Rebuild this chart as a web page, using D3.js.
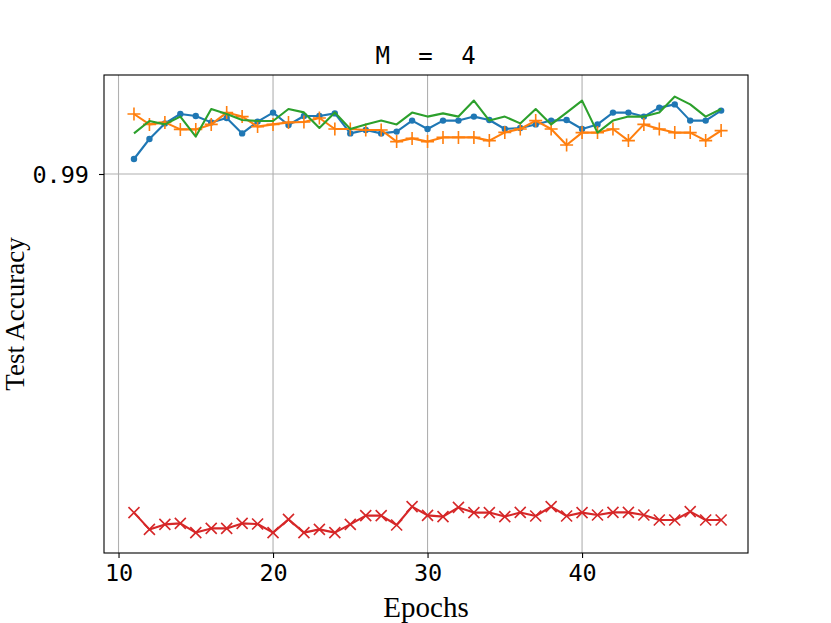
<!DOCTYPE html>
<html><head><meta charset="utf-8">
<script src="https://cdn.jsdelivr.net/npm/d3@7/dist/d3.min.js"></script>
<style>body{margin:0;background:#fff}</style>
</head><body>
<svg id="c" width="831" height="623"></svg>
<script>
const epochs = d3.range(11, 50);
const xTicks = [10, 20, 30, 40];
const yTicks = [0.99];
const yTickLabels = ["0.99"];
const titleText = "M = 4";
const xLabel = "Epochs";
const yLabel = "Test Accuracy";

const blue = [0.99075,0.99175,0.99253,0.9930,0.9929,0.99258,0.9928,0.99203,0.99262,0.99307,
  0.99245,0.9929,0.9929,0.99303,0.99203,0.9922,0.99203,0.99212,0.99267,0.99225,
  0.99267,0.99267,0.99287,0.9927,0.99225,0.9923,0.99248,0.99267,0.9927,0.99225,
  0.99248,0.99307,0.99307,0.99287,0.99332,0.99348,0.99267,0.99267,0.99317];
const orange = [0.9930,0.99248,0.99258,0.99223,0.99223,0.99248,0.99307,0.99287,0.99237,0.99248,
  0.99258,0.9926,0.9928,0.99225,0.99225,0.9922,0.9922,0.99162,0.99178,0.99162,
  0.99183,0.99183,0.99183,0.99167,0.99208,0.99225,0.99267,0.99225,0.99145,0.99207,
  0.99207,0.99225,0.99167,0.99248,0.99225,0.99207,0.99207,0.99167,0.99217];
const green = [0.99203,0.99265,0.99248,0.99287,0.99187,0.99325,0.9930,0.9927,0.99265,0.99265,
  0.99325,0.99308,0.9923,0.99308,0.99225,0.99248,0.99267,0.99248,0.99307,0.99287,
  0.99303,0.99287,0.99367,0.99267,0.99287,0.99253,0.99325,0.99248,0.99307,0.99367,
  0.99207,0.99267,0.99287,0.99287,0.99307,0.99387,0.99348,0.99287,0.99325];
const red = [0.97307,0.97223,0.97248,0.97253,0.97207,0.97228,0.97228,0.97253,0.9725,0.97207,
  0.97273,0.97207,0.97223,0.97207,0.97248,0.97292,0.97292,0.97245,0.97337,0.97293,
  0.97287,0.97333,0.97307,0.97307,0.97287,0.97308,0.9729,0.97337,0.9729,0.97307,
  0.97295,0.97308,0.97308,0.97295,0.9727,0.9727,0.97312,0.9727,0.9727];

const L = 104, R = 748, T = 75, B = 553;
const svg = d3.select("#c");
const x = d3.scaleLinear().domain([9.06, 50.74]).range([L, R]);
const y = d3.scaleLinear().domain([0.97105, 0.99495]).range([B, T]);

// grid
const g = svg.append("g");
g.selectAll("line.gx").data(xTicks).join("line")
  .attr("x1", d => x(d)).attr("x2", d => x(d)).attr("y1", T).attr("y2", B)
  .attr("stroke", "#b0b0b0").attr("stroke-width", 1.1);
g.selectAll("line.gy").data(yTicks).join("line")
  .attr("y1", d => y(d)).attr("y2", d => y(d)).attr("x1", L).attr("x2", R)
  .attr("stroke", "#b0b0b0").attr("stroke-width", 1.1);

const tickFont = "'DejaVu Sans Mono', monospace";
// axes
const xa = svg.append("g").attr("transform", `translate(0,${B})`)
  .call(d3.axisBottom(x).tickValues(xTicks).tickSize(5).tickPadding(6).tickFormat(d3.format("d")));
const ya = svg.append("g").attr("transform", `translate(${L},0)`)
  .call(d3.axisLeft(y).tickValues(yTicks).tickSize(5).tickPadding(10).tickFormat((d, i) => yTickLabels[i]));
[xa, ya].forEach(a => {
  a.select(".domain").remove();
  a.selectAll(".tick line").attr("stroke", "#000").attr("stroke-width", 1.1);
  a.selectAll(".tick text").attr("font-family", tickFont).attr("font-size", 23.5).attr("fill", "#000");
});
xa.selectAll(".tick text").attr("dy", "0.71em");
ya.selectAll(".tick text").attr("dy", "0.36em");

// lines
const line = vals => d3.line().x((d, i) => x(epochs[i])).y(d => y(d))(vals);
const series = [
  {v: blue, c: "#1f77b4", m: "o"},
  {v: orange, c: "#ff7f0e", m: "+"},
  {v: green, c: "#2ca02c", m: null},
  {v: red, c: "#d62728", m: "x"}
];
series.forEach(s => {
  svg.append("path").attr("d", line(s.v)).attr("fill", "none")
    .attr("stroke", s.c).attr("stroke-width", 2.1).attr("stroke-linejoin", "round");
  const mg = svg.append("g");
  if (s.m === "o") {
    mg.selectAll("circle").data(s.v).join("circle")
      .attr("cx", (d, i) => x(epochs[i])).attr("cy", d => y(d)).attr("r", 3.2)
      .attr("fill", s.c);
  } else if (s.m === "+") {
    const h = 6.5;
    mg.selectAll("path").data(s.v).join("path")
      .attr("d", (d, i) => { const cx = x(epochs[i]), cy = y(d);
        return `M${cx-h},${cy}H${cx+h}M${cx},${cy-h}V${cy+h}`; })
      .attr("stroke", s.c).attr("stroke-width", 1.6);
  } else if (s.m === "x") {
    const h = 5.5;
    mg.selectAll("path").data(s.v).join("path")
      .attr("d", (d, i) => { const cx = x(epochs[i]), cy = y(d);
        return `M${cx-h},${cy-h}L${cx+h},${cy+h}M${cx-h},${cy+h}L${cx+h},${cy-h}`; })
      .attr("stroke", s.c).attr("stroke-width", 1.6);
  }
});

// frame
svg.append("rect").attr("x", L).attr("y", T).attr("width", R - L).attr("height", B - T)
  .attr("fill", "none").attr("stroke", "#000").attr("stroke-width", 1.1);

// title & labels
svg.append("text").attr("x", (L + R) / 2 + 3).attr("y", 64).attr("text-anchor", "middle")
  .attr("font-family", tickFont).attr("font-size", 24).attr("letter-spacing", 7)
  .style("white-space", "pre").text(titleText);
svg.append("text").attr("x", (L + R) / 2).attr("y", 617).attr("text-anchor", "middle")
  .attr("font-family", "'Liberation Serif', serif").attr("font-size", 29).text(xLabel);
svg.append("text").attr("transform", `translate(24,${(T + B) / 2}) rotate(-90)`).attr("text-anchor", "middle")
  .attr("font-family", "'Liberation Serif', serif").attr("font-size", 27).text(yLabel);
</script>
</body></html>
